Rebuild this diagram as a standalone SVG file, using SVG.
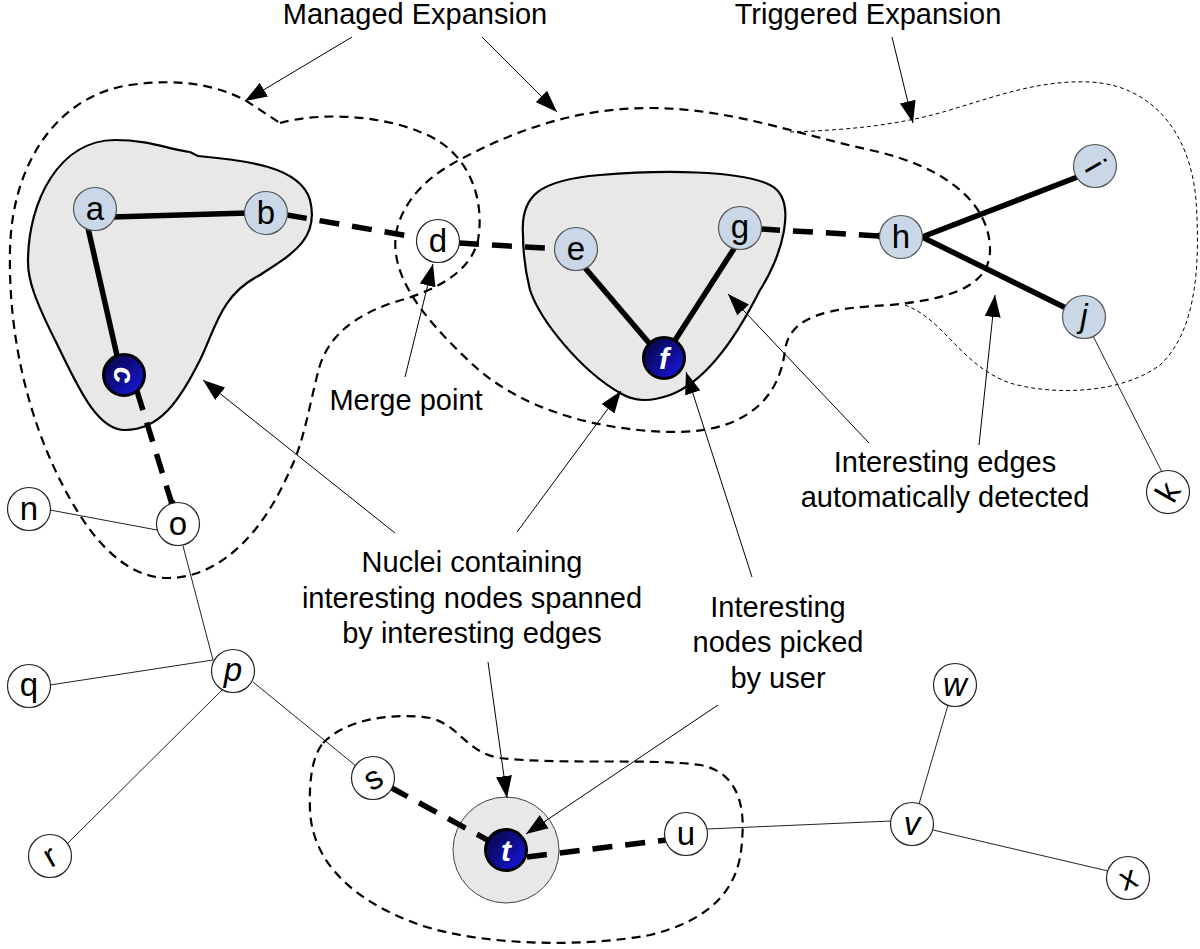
<svg xmlns="http://www.w3.org/2000/svg" width="1200" height="949" viewBox="0 0 1200 949">
<defs>
<style>
.lbl{font-family:"Liberation Sans",Arial,sans-serif;font-size:29px;fill:#000;text-anchor:middle}
.nt{font-family:"Liberation Sans",Arial,sans-serif;font-size:33px;fill:#000;text-anchor:middle}
.nd{font-family:"Liberation Sans",Arial,sans-serif;font-size:30px;fill:#fff;text-anchor:middle;font-weight:bold;font-style:italic}
.light{fill:#c9d7e6;stroke:#555;stroke-width:1.2}
.white{fill:#fff;stroke:#222;stroke-width:1.2}
.dark{fill:url(#dg);stroke:#000;stroke-width:3}
.region{fill:none;stroke:#000;stroke-width:2.2;stroke-dasharray:9 6}
.trig{fill:none;stroke:#000;stroke-width:1;stroke-dasharray:4 3}
.nucleus{fill:#e8e8e8;stroke:#000;stroke-width:2.2}
.thick{stroke:#000;stroke-width:5.5;fill:none}
.tdash{stroke:#000;stroke-width:5.5;fill:none;stroke-dasharray:20 13}
.thin{stroke:#222;stroke-width:1;fill:none}
.ann{stroke:#000;stroke-width:1;fill:none;marker-end:url(#arr)}
</style>
<linearGradient id="dg" x1="0" y1="0" x2="1" y2="1">
<stop offset="0" stop-color="#06063a"/>
<stop offset="0.5" stop-color="#0d0d8c"/>
<stop offset="1" stop-color="#1a1af0"/>
</linearGradient>
<marker id="arr" viewBox="0 0 22 16" refX="22" refY="8" markerWidth="22" markerHeight="16" orient="auto" markerUnits="userSpaceOnUse">
<path d="M0,0 L22,8 L0,16 Z" fill="#000"/>
</marker>
</defs>

<g id="regions">
<path id="managed1" class="region" d="M 280,123 C 320,112 380,115 420,132 C 470,150 485,200 478,240 C 470,275 430,292 395,302 C 355,315 330,335 320,365 C 310,400 305,440 290,470 C 260,540 215,578 168,578 C 120,578 85,530 60,480 C 30,420 8,340 10,250 C 12,160 60,95 130,85 C 180,78 215,85 245,100 L 280,123 Z"/>
<path id="managed2" class="region" d="M 463,158 C 520,128 580,108 650,108 C 730,108 800,135 870,150 C 940,165 990,200 990,250 C 990,290 940,300 890,305 C 830,308 790,315 785,350 C 780,395 750,430 680,432 C 600,432 520,410 470,362 C 420,315 385,270 398,225 C 408,195 430,175 463,158 Z"/>
<path id="managed3" class="region" d="M 323,743 C 345,720 390,712 430,718 C 460,725 465,752 500,758 C 560,765 650,758 700,765 C 740,772 745,810 742,840 C 740,890 710,920 650,935 C 580,948 480,945 420,925 C 350,900 312,860 310,810 C 309,780 312,757 323,743 Z"/>
<path id="triggered" class="trig" d="M 790,132 C 850,130 900,125 950,110 C 1000,95 1040,80 1090,82 C 1150,85 1190,130 1196,200 C 1200,260 1198,330 1160,365 C 1120,395 1050,395 1010,383 C 960,365 945,320 905,305"/>
</g>

<g id="nuclei">
<path id="nucleus1" class="nucleus" d="M 28,262 C 28,200 60,140 115,140 C 150,140 170,150 190,152 L 198,156 C 240,160 300,165 310,200 C 320,240 290,255 260,275 C 220,295 215,330 200,360 C 180,400 160,430 125,430 C 95,430 75,380 55,340 C 35,300 28,280 28,262 Z"/>
<path id="nucleus2" class="nucleus" d="M 523,235 C 520,195 540,180 600,175 C 660,170 740,170 770,185 C 800,200 780,260 760,290 C 740,330 710,380 670,395 C 650,402 635,402 620,393 C 580,370 540,320 530,290 C 525,270 523,250 523,235 Z"/>
<circle id="nucleus3" cx="506" cy="850" r="53" fill="#e8e8e8" stroke="#444" stroke-width="1"/>
</g>

<g id="connectors">
<line class="thick" x1="112" y1="217" x2="248" y2="213"/>
<line class="thick" x1="88" y1="228" x2="118" y2="360"/>
<line class="thick" x1="580" y1="262" x2="655" y2="350"/>
<line class="thick" x1="737" y1="244" x2="670" y2="348"/>
<line class="thick" x1="922" y1="237" x2="1080" y2="176"/>
<line class="thick" x1="922" y1="237" x2="1068" y2="309"/>
<line class="tdash" x1="287" y1="215" x2="438" y2="241"/>
<line class="tdash" x1="459" y1="243" x2="560" y2="249"/>
<line class="tdash" x1="760" y1="229" x2="880" y2="236"/>
<circle cx="880" cy="236" r="3.5" fill="#000"/>
<line class="tdash" x1="137" y1="391" x2="171" y2="501"/>
<circle cx="172" cy="503" r="3.5" fill="#000"/>
<line class="tdash" x1="390" y1="787" x2="506" y2="850"/>
<line class="tdash" x1="527" y1="857" x2="666" y2="840"/>
<line class="thin" x1="50" y1="510" x2="157" y2="530"/>
<line class="thin" x1="183" y1="546" x2="213" y2="660"/>
<line class="thin" x1="50" y1="685" x2="213" y2="660"/>
<line class="thin" x1="68" y1="843" x2="222" y2="690"/>
<line class="thin" x1="253" y1="682" x2="356" y2="766"/>
<line class="thin" x1="707" y1="829" x2="891" y2="821"/>
<line class="thin" x1="919" y1="804" x2="948" y2="705"/>
<line class="thin" x1="933" y1="830" x2="1108" y2="871"/>
<line class="thin" x1="1093" y1="336" x2="1162" y2="472"/>
</g>

<g id="nodes">
<g id="node-a"><circle class="light" cx="95" cy="209" r="21.5"/><text class="nt" x="95" y="220">a</text></g>
<g id="node-b"><circle class="light" cx="266" cy="213" r="21.5"/><text class="nt" x="266" y="224">b</text></g>
<g id="node-c"><circle class="dark" cx="124" cy="375" r="20.5"/><text class="nd" transform="translate(124,375) rotate(90) translate(0,10)">c</text></g>
<g id="node-d"><circle class="white" cx="438" cy="241" r="21.5"/><text class="nt" x="438" y="252">d</text></g>
<g id="node-e"><circle class="light" cx="576" cy="249" r="21.5"/><text class="nt" x="576" y="260">e</text></g>
<g id="node-f"><circle class="dark" cx="664" cy="358" r="20.5"/><text class="nd" x="664" y="369">f</text></g>
<g id="node-g"><circle class="light" cx="740" cy="228" r="21.5"/><text class="nt" x="740" y="238">g</text></g>
<g id="node-h"><circle class="light" cx="901" cy="237" r="21.5"/><text class="nt" x="901" y="248">h</text></g>
<g id="node-i"><circle class="light" cx="1095" cy="166" r="21.5"/><text class="nt" transform="translate(1095,166) rotate(60) translate(0,11)">i</text></g>
<g id="node-j"><circle class="light" cx="1084" cy="317" r="21.5"/><text class="nt" font-style="italic" x="1084" y="327">j</text></g>
<g id="node-k"><circle class="white" cx="1168" cy="492" r="21.5"/><text class="nt" transform="translate(1168,492) rotate(-60) translate(0,11)">k</text></g>
<g id="node-n"><circle class="white" cx="29" cy="509" r="21.5"/><text class="nt" x="29" y="520">n</text></g>
<g id="node-o"><circle class="white" cx="178" cy="524" r="21.5"/><text class="nt" x="178" y="535">o</text></g>
<g id="node-p"><circle class="white" cx="233" cy="671" r="21.5"/><text class="nt" font-style="italic" x="233" y="681">p</text></g>
<g id="node-q"><circle class="white" cx="29" cy="686" r="21.5"/><text class="nt" x="29" y="696">q</text></g>
<g id="node-r"><circle class="white" cx="50" cy="856" r="21.5"/><text class="nt" transform="translate(50,856) rotate(-30) translate(0,11)">r</text></g>
<g id="node-s"><circle class="white" cx="373" cy="778" r="21.5"/><text class="nt" transform="translate(373,778) rotate(-30) translate(0,11)">s</text></g>
<g id="node-t"><circle class="dark" cx="506" cy="850" r="20.5"/><text class="nd" x="506" y="861">t</text></g>
<g id="node-u"><circle class="white" cx="686" cy="834" r="21.5"/><text class="nt" x="686" y="845">u</text></g>
<g id="node-v"><circle class="white" cx="912" cy="824" r="21.5"/><text class="nt" font-style="italic" x="912" y="835">v</text></g>
<g id="node-w"><circle class="white" cx="955" cy="685" r="21.5"/><text class="nt" font-style="italic" x="955" y="696">w</text></g>
<g id="node-x"><circle class="white" cx="1128" cy="878" r="21.5"/><text class="nt" transform="translate(1128,878) rotate(-20) translate(0,11)">x</text></g>
</g>

<g id="annotations">
<text class="lbl" x="415" y="24">Managed Expansion</text>
<text class="lbl" x="868" y="24">Triggered Expansion</text>
<text class="lbl" x="406" y="410">Merge point</text>
<text class="lbl" x="472" y="572">Nuclei containing</text>
<text class="lbl" x="472" y="608">interesting nodes spanned</text>
<text class="lbl" x="472" y="643">by interesting edges</text>
<text class="lbl" x="778" y="617">Interesting</text>
<text class="lbl" x="778" y="652">nodes picked</text>
<text class="lbl" x="778" y="688">by user</text>
<text class="lbl" x="945" y="472">Interesting edges</text>
<text class="lbl" x="945" y="507">automatically detected</text>
<line class="ann" x1="352" y1="37" x2="245" y2="101"/>
<line class="ann" x1="482" y1="37" x2="557" y2="112"/>
<line class="ann" x1="892" y1="37" x2="913" y2="123"/>
<line class="ann" x1="405" y1="377" x2="433" y2="264"/>
<line class="ann" x1="395" y1="533" x2="203" y2="380"/>
<line class="ann" x1="517" y1="532" x2="621" y2="391"/>
<line class="ann" x1="488" y1="662" x2="507" y2="798"/>
<line class="ann" x1="752" y1="577" x2="686" y2="372"/>
<line class="ann" x1="718" y1="705" x2="526" y2="834"/>
<line class="ann" x1="869" y1="443" x2="728" y2="294"/>
<line class="ann" x1="979" y1="445" x2="995" y2="295"/>
</g>
</svg>
